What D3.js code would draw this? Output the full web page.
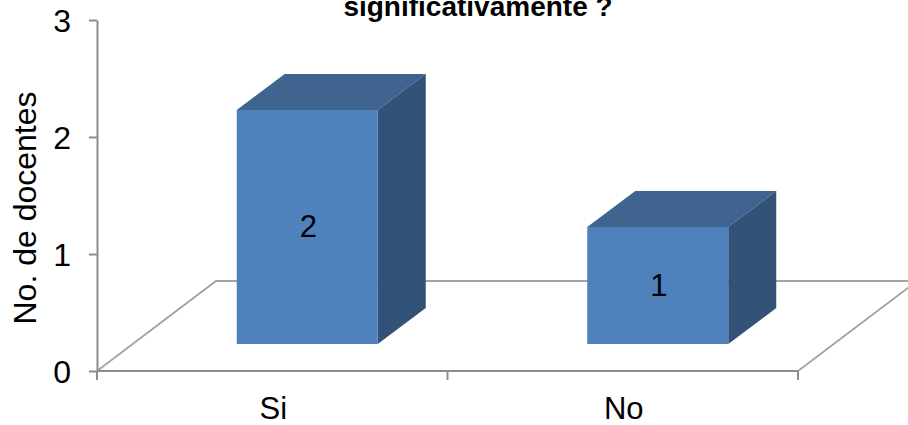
<!DOCTYPE html>
<html lang="es">
<head>
<meta charset="utf-8">
<style>
  html, body { margin: 0; padding: 0; background: #fff; overflow: hidden; }
  svg { display: block; }
  text { font-family: "Liberation Sans", Arial, sans-serif; fill: #000; }
</style>
</head>
<body>
<svg id="chart" width="908" height="425"></svg>
<script src="https://cdn.jsdelivr.net/npm/d3@7/dist/d3.min.js"></script>
<script>
const categories = ["Si", "No"];
const values = [2, 1];
const yTicks = [0, 1, 2, 3];
const titleText = "significativamente ?";
const yTitle = "No. de docentes";

const svg = d3.select("#chart");
const x = d3.scaleBand().domain(categories).range([97, 798]);
const y = d3.scaleLinear().domain([0, 3]).range([371, 20]);

// Oblique projection of the chart's floor and of the columns standing on it
const floorDx = 119, floorDy = 90;
const barDx = 48, barDy = 36;
const barWidth = 141, barShift = 35, barLift = 27;

const axisColor = "#8c8c8c";
const floorColor = "#a3a3a3";

// Floor outline
svg.append("path")
  .attr("d", d3.line()([
    [x.range()[0], y(0)],
    [x.range()[0] + floorDx, y(0) - floorDy],
    [x.range()[1] + floorDx, y(0) - floorDy],
    [x.range()[1], y(0)]
  ]))
  .attr("fill", "none")
  .attr("stroke", floorColor)
  .attr("stroke-width", 1.8);

// Value axis
const yAxis = svg.append("g")
  .attr("transform", `translate(${x.range()[0]},0)`)
  .call(d3.axisLeft(y).tickValues(yTicks).tickFormat(d3.format("d")).tickSize(8).tickSizeOuter(0).tickPadding(18));
yAxis.selectAll("line").attr("stroke", axisColor).attr("stroke-width", 2);
yAxis.select(".domain").attr("stroke", axisColor).attr("stroke-width", 2);
yAxis.selectAll("text")
  .attr("font-size", 32)
  .attr("font-family", '"Liberation Sans", Arial, sans-serif')
  .attr("fill", "#000")
  .attr("y", 1.5);

// Category axis
const step = x.step();
const xAxisG = svg.append("g").attr("transform", `translate(0,${y(0)})`);
xAxisG.append("line")
  .attr("x1", x.range()[0]).attr("x2", x.range()[1])
  .attr("stroke", axisColor).attr("stroke-width", 2);
xAxisG.selectAll("line.tick")
  .data(d3.range(categories.length + 1))
  .join("line")
  .attr("class", "tick")
  .attr("x1", i => x.range()[0] + i * step)
  .attr("x2", i => x.range()[0] + i * step)
  .attr("y1", 0).attr("y2", 9)
  .attr("stroke", axisColor).attr("stroke-width", 2);
xAxisG.selectAll("text")
  .data(categories)
  .join("text")
  .attr("x", d => x(d) + step / 2 + 1)
  .attr("y", 48)
  .attr("text-anchor", "middle")
  .attr("font-size", 31)
  .text(d => d);

// Columns: top, side and front faces, then the value label
const bars = svg.selectAll("g.bar")
  .data(categories.map((c, i) => ({ c, v: values[i] })))
  .join("g")
  .attr("class", "bar");

const geom = d => {
  const l = x(d.c) + step / 2 + barShift - barWidth / 2;
  const r = l + barWidth;
  const b = y(0) - barLift;
  const t = b - (y(0) - y(d.v));
  return { l, r, b, t };
};

bars.append("path")
  .attr("d", d => {
    const g = geom(d);
    return d3.line()([[g.l, g.t], [g.l + barDx, g.t - barDy], [g.r + barDx, g.t - barDy], [g.r, g.t]]) + "Z";
  })
  .attr("fill", "#3e648f");

bars.append("path")
  .attr("d", d => {
    const g = geom(d);
    return d3.line()([[g.r, g.t], [g.r + barDx, g.t - barDy], [g.r + barDx, g.b - barDy], [g.r, g.b]]) + "Z";
  })
  .attr("fill", "#325277");

bars.append("rect")
  .attr("x", d => geom(d).l)
  .attr("y", d => geom(d).t)
  .attr("width", barWidth)
  .attr("height", d => geom(d).b - geom(d).t)
  .attr("fill", "#4f81bd");

bars.append("text")
  .attr("x", d => geom(d).l + barWidth / 2 + 1)
  .attr("y", d => (geom(d).t + geom(d).b) / 2 + 10)
  .attr("text-anchor", "middle")
  .attr("font-size", 31)
  .text(d => d.v);

// Titles
svg.append("text")
  .attr("x", 478)
  .attr("y", 16)
  .attr("text-anchor", "middle")
  .attr("font-size", 28)
  .attr("font-weight", "bold")
  .text(titleText);

svg.append("text")
  .attr("transform", "translate(36,208) rotate(-90)")
  .attr("text-anchor", "middle")
  .attr("font-size", 32)
  .text(yTitle);
</script>
</body>
</html>
